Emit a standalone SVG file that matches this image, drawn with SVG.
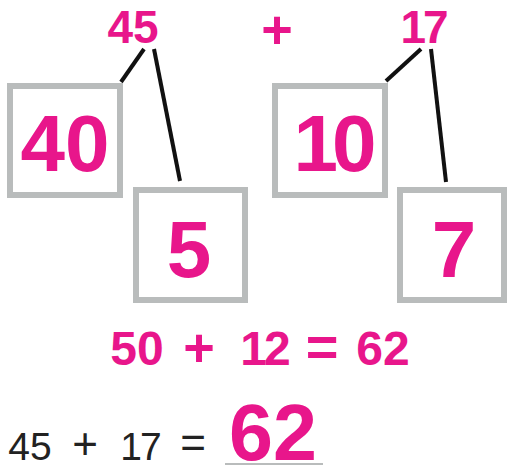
<svg xmlns="http://www.w3.org/2000/svg" width="510" height="469" viewBox="0 0 510 469">
<style>
.box{fill:#fff;stroke:#b9bcbc;stroke-width:6}
.pk{fill:#e8168b;font-family:"Liberation Sans",Arial,sans-serif;font-weight:bold;text-anchor:middle}
.ln{stroke:#111;stroke-width:4;fill:none}
.bk{fill:#222;font-family:"Liberation Sans",Arial,sans-serif;text-anchor:middle}
</style>
<rect width="510" height="469" fill="#fff"/>
<g id="top">
<text class="pk" x="133" y="43" font-size="46">45</text>
<text class="pk" x="277" y="48" font-size="54">+</text>
<text class="pk" x="423" y="43" font-size="46" letter-spacing="-3">17</text>
</g>
<g id="connectors">
<line class="ln" x1="144" y1="49" x2="121" y2="82"/>
<line class="ln" x1="154" y1="49" x2="180" y2="181"/>
<line class="ln" x1="421" y1="49" x2="386" y2="81"/>
<line class="ln" x1="431" y1="49" x2="446" y2="182"/>
</g>
<g id="n40">
<rect class="box" x="10" y="86" width="110" height="109"/>
<text class="pk" x="65" y="171" font-size="80">40</text>
</g>
<g id="n5">
<rect class="box" x="136" y="190" width="109" height="110"/>
<text class="pk" x="189" y="277" font-size="80">5</text>
</g>
<g id="n10">
<rect class="box" x="275" y="86" width="110" height="109"/>
<text class="pk" x="332" y="171" font-size="80" letter-spacing="-6">10</text>
</g>
<g id="n7">
<rect class="box" x="400" y="190" width="104" height="110"/>
<text class="pk" x="454" y="277" font-size="80">7</text>
</g>
<g id="sum">
<text class="pk" x="137" y="365" font-size="48">50</text>
<text class="pk" x="199" y="366" font-size="54">+</text>
<text class="pk" x="264" y="365" font-size="48" letter-spacing="-3">12</text>
<text class="pk" x="322" y="366" font-size="56">=</text>
<text class="pk" x="383" y="365" font-size="48">62</text>
</g>
<g id="answer">
<text class="bk" x="30" y="460" font-size="39">45</text>
<text class="bk" x="85" y="459" font-size="44">+</text>
<text class="bk" x="140" y="460" font-size="39" letter-spacing="-2">17</text>
<text class="bk" x="193" y="458" font-size="44">=</text>
<line x1="225" y1="464" x2="323" y2="464" stroke="#b9bcbc" stroke-width="2"/>
<text class="pk" x="273" y="460" font-size="79">62</text>
</g>
</svg>
